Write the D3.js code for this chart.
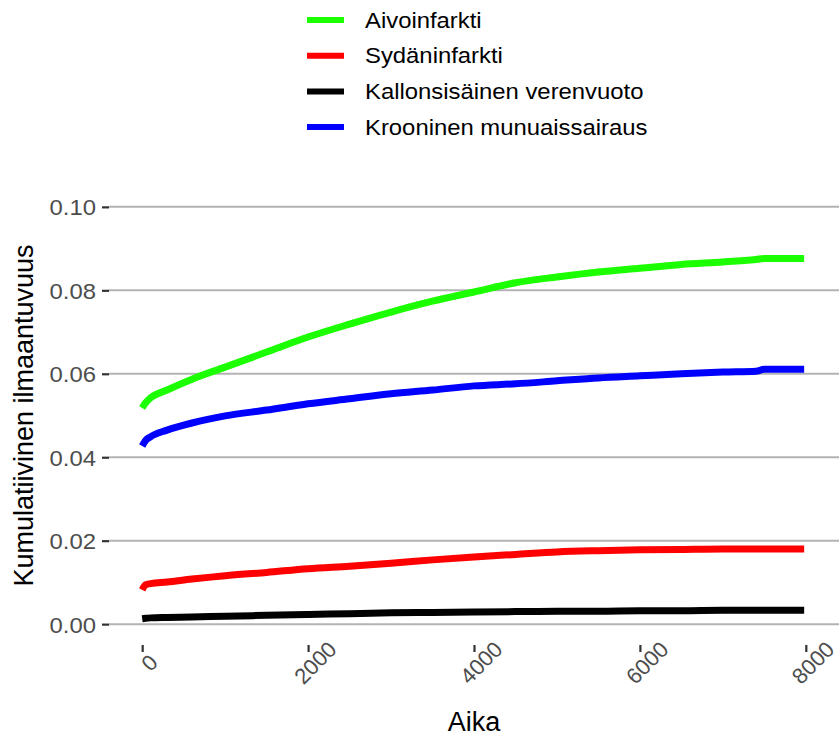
<!DOCTYPE html>
<html lang="fi">
<head>
  <meta charset="UTF-8">
  <title>Kumulatiivinen ilmaantuvuus</title>
  <script src="https://cdnjs.cloudflare.com/ajax/libs/d3/7.8.5/d3.min.js"></script>
  <style>
    body { margin: 0; background: #fff; }
    svg text { font-family: "Liberation Sans", Arial, sans-serif; }
  </style>
</head>
<body>
  <div id="chart"></div>
  <script>
    // time points (x) and cumulative incidence
    const times = [0, 40, 100, 300, 600, 1000, 1500, 2000, 2500, 3000, 3500, 4000, 4500, 5000, 5500, 6000, 6500, 7000, 7400, 7500, 7980];

    const aivoinfarkti = [0.0518, 0.0530, 0.0542, 0.0561, 0.0587, 0.0616, 0.0652, 0.0688, 0.0719, 0.0748, 0.0774, 0.0796, 0.0818, 0.0832, 0.0844, 0.0853, 0.0862, 0.0868, 0.0874, 0.0876, 0.0876];
    const sydaninfarkti = [0.0082, 0.0094, 0.0097, 0.0101, 0.0108, 0.0116, 0.0124, 0.0133, 0.0139, 0.0146, 0.0154, 0.0161, 0.0167, 0.0173, 0.0176, 0.0178, 0.0179, 0.0180, 0.0180, 0.0180, 0.0180];
    const kallonsisainen = [0.0013, 0.0014, 0.0015, 0.0016, 0.0017, 0.0019, 0.0021, 0.0023, 0.0025, 0.0027, 0.0028, 0.0029, 0.0030, 0.0031, 0.0031, 0.0032, 0.0032, 0.0033, 0.0033, 0.0033, 0.0033];
    const krooninen = [0.0427, 0.0440, 0.0449, 0.0465, 0.0482, 0.0499, 0.0513, 0.0528, 0.0540, 0.0552, 0.0561, 0.0571, 0.0576, 0.0583, 0.0590, 0.0595, 0.0600, 0.0604, 0.0606, 0.0611, 0.0611];

    const seriesNames = ["Aivoinfarkti", "Sydäninfarkti", "Kallonsisäinen verenvuoto", "Krooninen munuaissairaus"];
    const seriesColors = ["#1cff00", "#ff0000", "#000000", "#0000ff"];
    const seriesValues = [aivoinfarkti, sydaninfarkti, kallonsisainen, krooninen];

    const xTicks = [0, 2000, 4000, 6000, 8000];
    const yTicks = [0, 0.02, 0.04, 0.06, 0.08, 0.10];

    const W = 839, H = 738;
    const panel = {left: 109, right: 839, top: 186, bottom: 645};
    // the reference text is a little wider than it is tall
    const stretch = 1.085;

    const svg = d3.select("#chart").append("svg")
      .attr("width", W)
      .attr("height", H);

    // ggplot-style expanded limits
    const x = d3.scaleLinear().domain([-400, 8400]).range([panel.left, panel.right]);
    const y = d3.scaleLinear().domain([-0.005, 0.105]).range([panel.bottom, panel.top]);

    // horizontal grid lines
    svg.append("g")
      .selectAll("line")
      .data(yTicks)
      .join("line")
      .attr("x1", panel.left)
      .attr("x2", panel.right)
      .attr("y1", d => y(d))
      .attr("y2", d => y(d))
      .attr("stroke", "#b3b3b3")
      .attr("stroke-width", 2);

    // y axis
    const yAxis = svg.append("g")
      .attr("transform", `translate(${panel.left},0)`)
      .call(d3.axisLeft(y).tickValues(yTicks).tickFormat(d3.format(".2f")).tickSize(7).tickPadding(0));
    yAxis.select(".domain").remove();
    yAxis.selectAll(".tick line").attr("stroke", "#333").attr("stroke-width", 2.2);
    yAxis.selectAll(".tick text")
      .attr("fill", "#4d4d4d")
      .style("font-size", "22px")
      .attr("x", 0)
      .attr("dy", "0.36em")
      .attr("transform", `translate(-13,0) scale(${stretch},1)`);

    // x axis
    const xAxis = svg.append("g")
      .attr("transform", `translate(0,${panel.bottom})`)
      .call(d3.axisBottom(x).tickValues(xTicks).tickFormat(d3.format("d")).tickSize(7));
    xAxis.select(".domain").remove();
    xAxis.selectAll(".tick line").attr("stroke", "#333").attr("stroke-width", 2.2);
    xAxis.selectAll(".tick text")
      .attr("fill", "#4d4d4d")
      .style("font-size", "22px")
      .attr("text-anchor", "middle")
      .attr("x", 0)
      .attr("y", 0)
      .attr("dy", "0.35em")
      .attr("transform", "translate(1,12) rotate(-45) translate(0,8)");

    // lines
    const line = d3.line()
      .x(d => x(d[0]))
      .y(d => y(d[1]))
      .curve(d3.curveMonotoneX);

    seriesValues.forEach((vals, i) => {
      svg.append("path")
        .datum(times.map((t, j) => [t, vals[j]]))
        .attr("fill", "none")
        .attr("stroke", seriesColors[i])
        .attr("stroke-width", 7)
        .attr("stroke-linecap", "butt")
        .attr("d", line);
    });

    // axis titles
    svg.append("text")
      .attr("x", (panel.left + panel.right) / 2)
      .attr("y", 731)
      .attr("text-anchor", "middle")
      .style("font-size", "27px")
      .text("Aika");

    svg.append("text")
      .attr("transform", `translate(33,${(panel.top + panel.bottom) / 2}) rotate(-90)`)
      .attr("text-anchor", "middle")
      .style("font-size", "27px")
      .text("Kumulatiivinen ilmaantuvuus");

    // legend
    const legend = svg.append("g").attr("transform", "translate(307,20)");
    const rows = legend.selectAll("g")
      .data(seriesNames)
      .join("g")
      .attr("transform", (d, i) => `translate(0,${i * 35.7})`);
    rows.append("line")
      .attr("x1", 0).attr("x2", 37)
      .attr("stroke", (d, i) => seriesColors[i])
      .attr("stroke-width", 6);
    rows.append("text")
      .attr("transform", `translate(58,0) scale(${stretch},1)`)
      .attr("dy", "0.35em")
      .style("font-size", "22px")
      .text(d => d);
  </script>
</body>
</html>
